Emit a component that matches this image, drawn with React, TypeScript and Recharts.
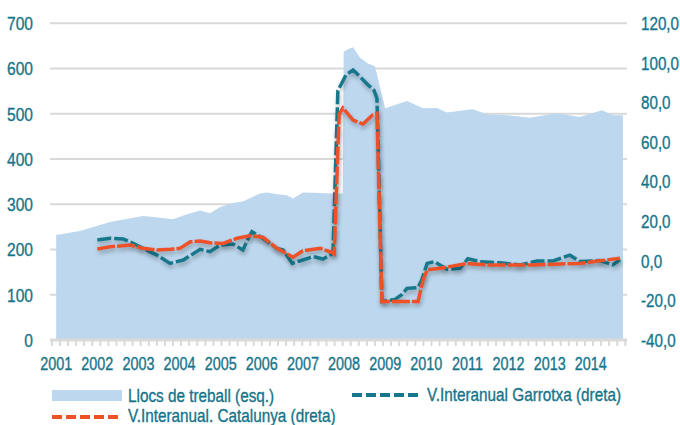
import React from 'react';
import { ComposedChart, Area, Line, XAxis, YAxis, CartesianGrid } from 'recharts';

// Llocs de treball (left axis)
const llocsT = [2001.0, 2001.58, 2002.07, 2002.31, 2002.8, 2003.11, 2003.53, 2003.84, 2004.18, 2004.5, 2004.74, 2004.99, 2005.3, 2005.54, 2005.96, 2006.13, 2006.37, 2006.61, 2006.76, 2007.0, 2007.42, 2007.73, 2007.97, 2007.99, 2008.1, 2008.22, 2008.39, 2008.58, 2008.75, 2009.0, 2009.53, 2009.92, 2010.26, 2010.5, 2011.13, 2011.47, 2011.96, 2012.52, 2013.17, 2013.73, 2014.27, 2014.54, 2014.78];
const llocsV = [232, 241, 254, 261, 269, 274, 270, 267, 278, 286, 280, 294, 303, 306, 324, 326, 322, 320, 313, 326, 325, 324, 324, 637, 643, 647, 624, 611, 605, 512, 528, 512, 513, 503, 510, 499, 497, 491, 501, 493, 508, 497, 497];

// V.Interanual Garrotxa (right axis)
const garrotxaT = [2002.0, 2002.31, 2002.63, 2002.8, 2003.11, 2003.45, 2003.77, 2004.09, 2004.5, 2004.74, 2004.99, 2005.3, 2005.54, 2005.67, 2005.76, 2006.03, 2006.37, 2006.52, 2006.74, 2007.0, 2007.25, 2007.49, 2007.73, 2007.85, 2008.05, 2008.22, 2008.39, 2008.58, 2008.73, 2008.8, 2008.92, 2009.24, 2009.41, 2009.53, 2009.8, 2009.89, 2010.02, 2010.2, 2010.33, 2010.5, 2010.82, 2011.01, 2011.3, 2011.79, 2012.28, 2012.69, 2013.08, 2013.49, 2013.73, 2014.22, 2014.54, 2014.71];
const garrotxaV = [10.5, 11.4, 11.0, 9.6, 6.3, 2.9, -1.3, 0.4, 5.8, 4.6, 8.0, 8.5, 5.5, 11.4, 14.7, 11.4, 6.3, 5.5, -1.3, 0.4, 2.1, 0.9, 3.8, 86, 94, 96.4, 93, 89, 86, 82, -20.5, -19.5, -17, -13.9, -13.5, -9.7, -1.3, -0.4, -2.1, -4.3, -3.8, 1.1, -0.4, -1.0, -2.1, -0.1, -0.1, 2.9, -0.3, 0.1, -2.0, 0.6];

// V.Interanual Catalunya (right axis)
const catalunyaT = [2002.0, 2002.31, 2002.8, 2003.11, 2003.45, 2003.77, 2004.01, 2004.26, 2004.5, 2004.74, 2005.06, 2005.4, 2005.71, 2006.03, 2006.37, 2006.76, 2007.0, 2007.42, 2007.66, 2007.76, 2007.88, 2007.97, 2008.22, 2008.46, 2008.7, 2008.8, 2008.92, 2009.8, 2009.92, 2010.02, 2010.33, 2010.99, 2011.55, 2012.52, 2013.73, 2014.22, 2014.71];
const catalunyaV = [6.0, 7.1, 8.0, 6.3, 5.5, 5.8, 6.3, 9.6, 10.0, 9.1, 8.8, 11.4, 12.7, 11.9, 6.3, 1.8, 5.1, 6.3, 4.6, 3.5, 74, 77.2, 71.1, 69.1, 73.8, 74.5, -20.5, -20.5, -9.7, -4.6, -3.8, -1.3, -2.1, -2.1, -1.3, 0.0, 1.3];

const yearTicks = [2001, 2002, 2003, 2004, 2005, 2006, 2007, 2008, 2009, 2010, 2011, 2012, 2013, 2014];
const leftTicks = [0, 100, 200, 300, 400, 500, 600, 700];
const rightTicks = [-40, -20, 0, 20, 40, 60, 80, 100, 120];

const legendLabels = ['Llocs de treball (esq.)', 'V.Interanual Garrotxa (dreta)', 'V.Interanual. Catalunya (dreta)'];

// minor tick marks along the bottom axis (decoration only)
const minorTicks = Array.from({ length: 72 }, (_, i) => 2000.895 + i * 0.1964);
const xTicks = [...yearTicks, ...minorTicks].sort((a, b) => a - b);

const areaData = llocsT.map((t, i) => ({ t, llocs: llocsV[i] }));
const garrotxaData = garrotxaT.map((t, i) => ({ t, garrotxa: garrotxaV[i] }));
const catalunyaData = catalunyaT.map((t, i) => ({ t, catalunya: catalunyaV[i] }));

const FONT = '"Liberation Sans", Arial, sans-serif';
const TEXT = '#16748A';
const AREA = '#BDD7EE';
const TEAL = '#17788B';
const ORANGE = '#EE5128';
const GRID = '#D9D9D9';
const TEXT_STROKE = { stroke: TEXT, strokeWidth: 0.35 };

function XTick(props: any) {
  const { x, y, payload } = props;
  const v = payload.value;
  if (Number.isInteger(v)) {
    return (
      <text
        x={0}
        y={0}
        transform={`translate(${x},${y + 17}) scale(0.8,1)`}
        dy="0.71em"
        textAnchor="middle"
        fill={TEXT}
        fontFamily={FONT}
        fontSize={18}
        {...TEXT_STROKE}
      >
        {v}
      </text>
    );
  }
  return <line x1={x} x2={x} y1={y} y2={y + 6} stroke={GRID} strokeWidth={2} />;
}

function LeftTick(props: any) {
  const { x, y, payload } = props;
  return (
    <text
      x={0}
      y={0}
      transform={`translate(${x},${y}) scale(0.82,1)`}
      dy="0.355em"
      textAnchor="end"
      fill={TEXT}
      fontFamily={FONT}
      fontSize={19}
      {...TEXT_STROKE}
    >
      {payload.value}
    </text>
  );
}

function RightTick(props: any) {
  const { x, y, payload } = props;
  return (
    <text
      x={0}
      y={0}
      transform={`translate(${x},${y}) scale(0.8,1)`}
      dy="0.355em"
      textAnchor="start"
      fill={TEXT}
      fontFamily={FONT}
      fontSize={19}
      {...TEXT_STROKE}
    >
      {Number(payload.value).toFixed(1).replace('.', ',')}
    </text>
  );
}

function LegendText({ x, y, children }: any) {
  return (
    <text
      x={0}
      y={0}
      transform={`translate(${x},${y}) scale(0.85,1)`}
      dominantBaseline="central"
      fill={TEXT}
      fontFamily={FONT}
      fontSize={18}
      {...TEXT_STROKE}
    >
      {children}
    </text>
  );
}

export default function App() {
  return (
    <div style={{ position: 'absolute', left: 0, top: 0, width: 680, height: 425, background: '#fff' }}>
      <style>{`.recharts-line-curve{filter:drop-shadow(1px 3px 2px rgba(0,0,0,0.28));}`}</style>
      <ComposedChart width={680} height={425} margin={{ top: 23.3, right: 0, bottom: 0, left: 0 }}>
        <CartesianGrid yAxisId="left" horizontal vertical={false} stroke={GRID} strokeWidth={2} />
        <XAxis
          type="number"
          dataKey="t"
          domain={[2000.85, 2014.88]}
          allowDataOverflow
          ticks={xTicks}
          interval={0}
          tickLine={false}
          tickSize={0}
          tickMargin={0}
          axisLine={{ stroke: GRID, strokeWidth: 3 }}
          height={85}
          tick={(p: any) => <XTick {...p} />}
        />
        <YAxis
          yAxisId="left"
          orientation="left"
          domain={[0, 700]}
          ticks={leftTicks}
          width={50}
          axisLine={false}
          tickLine={false}
          tickSize={0}
          tickMargin={17}
          tick={(p: any) => <LeftTick {...p} />}
        />
        <YAxis
          yAxisId="right"
          orientation="right"
          domain={[-40, 120]}
          ticks={rightTicks}
          width={53}
          axisLine={false}
          tickLine={false}
          tickSize={0}
          tickMargin={14}
          tick={(p: any) => <RightTick {...p} />}
        />
        <Area
          yAxisId="left"
          data={areaData}
          dataKey="llocs"
          type="linear"
          stroke="none"
          fill={AREA}
          fillOpacity={1}
          isAnimationActive={false}
        />
        <Line
          yAxisId="right"
          data={garrotxaData}
          dataKey="garrotxa"
          type="linear"
          stroke={TEAL}
          strokeWidth={3.5}
          strokeDasharray="14 3"
          dot={false}
          isAnimationActive={false}
        />
        <Line
          yAxisId="right"
          data={catalunyaData}
          dataKey="catalunya"
          type="linear"
          stroke={ORANGE}
          strokeWidth={3.5}
          strokeDasharray="18 2"
          dot={false}
          isAnimationActive={false}
        />
      </ComposedChart>
      <svg width={680} height={425} style={{ position: 'absolute', left: 0, top: 0, pointerEvents: 'none' }}>
        <rect x={52} y={390} width={70} height={11} fill={AREA} />
        <LegendText x={128} y={396}>{legendLabels[0]}</LegendText>
        <line x1={352} x2={422} y1={395} y2={395} stroke={TEAL} strokeWidth={4} strokeDasharray="10 4" />
        <LegendText x={427} y={395}>{legendLabels[1]}</LegendText>
        <line x1={52} x2={122} y1={417} y2={417} stroke={ORANGE} strokeWidth={4} strokeDasharray="10 4" />
        <LegendText x={128} y={416}>{legendLabels[2]}</LegendText>
      </svg>
    </div>
  );
}
